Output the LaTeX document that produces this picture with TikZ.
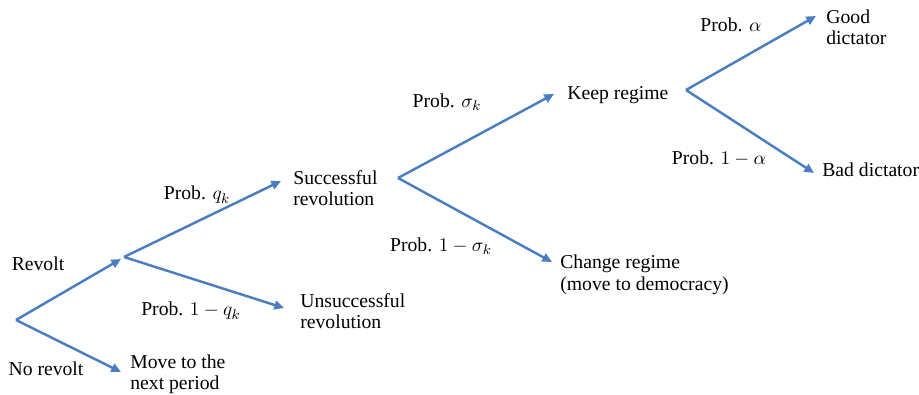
\documentclass[tikz,border=0pt]{standalone}
\usepackage{fontspec}
\setmainfont{Liberation Serif}
\usetikzlibrary{arrows.meta}
\definecolor{branchblue}{RGB}{74,126,193}
\tikzset{
	branch/.style={draw=branchblue, line width=1.4pt, line join=miter, -{Triangle[length=5.5pt,width=5pt]}},
	outcome/.style={anchor=west, align=left, inner sep=0pt, font=\fontsize{11.2}{12.2}\selectfont},
	prob/.style={inner sep=0pt, font=\fontsize{11.2}{12.2}\selectfont}
}

\begin{document}
\begin{tikzpicture}[x=0.02cm, y=-0.02cm]
		%%%%% START %%%%%
		\useasboundingbox (0, 0) rectangle (919, 395);
		
		% branch points
		\coordinate (root) at (16, 320);
		\coordinate (revolt) at (124, 257);
		\coordinate (success) at (398, 178);
		\coordinate (keep) at (686, 90);
		
		% arrow tips
		\coordinate (tipRevolt) at (121, 259);
		\coordinate (tipNoRevolt) at (121, 372);
		\coordinate (tipSuccess) at (281, 181);
		\coordinate (tipFail) at (284, 308);
		\coordinate (tipKeep) at (554, 94);
		\coordinate (tipChange) at (552, 262);
		\coordinate (tipGood) at (816, 16);
		\coordinate (tipBad) at (814, 173);
		
		% outcomes
		\node[outcome] (nextPeriod) at (130, 374) {Move to the\\next period};
		\node[outcome] (successful) at (293, 188) {Successful\\revolution};
		\node[outcome] (unsuccessful) at (300, 311) {Unsuccessful\\revolution};
		\node[outcome] (keepRegime) at (567, 95) {Keep regime};
		\node[outcome] (changeRegime) at (560, 275) {Change regime\\(move to democracy)};
		\node[outcome] (goodDictator) at (826, 27) {Good\\dictator};
		\node[outcome] (badDictator) at (822, 170) {Bad dictator};
		
		% probabilities
		\node[prob] (pRevolt) at (38, 264) {Revolt};
		\node[prob] (pNoRevolt) at (46, 369) {No revolt};
		\node[prob] (pQ) at (197, 195) {Prob. $q_k$};
		\node[prob] (pNotQ) at (191, 311) {Prob. $1-q_k$};
		\node[prob] (pSigma) at (447, 102) {Prob. $\sigma_k$};
		\node[prob] (pNotSigma) at (441, 246) {Prob. $1-\sigma_k$};
		\node[prob] (pAlpha) at (731, 25) {Prob. $\alpha$};
		\node[prob] (pNotAlpha) at (719, 158) {Prob. $1-\alpha$};
		
		% branches
		\draw[branch] (root) -- (tipRevolt);
		\draw[branch] (root) -- (tipNoRevolt);
		\draw[branch] (revolt) -- (tipSuccess);
		\draw[branch] (revolt) -- (tipFail);
		\draw[branch] (success) -- (tipKeep);
		\draw[branch] (success) -- (tipChange);
		\draw[branch] (keep) -- (tipGood);
		\draw[branch] (keep) -- (tipBad);
		
		%%%%% END %%%%%
\end{tikzpicture}
\end{document}
